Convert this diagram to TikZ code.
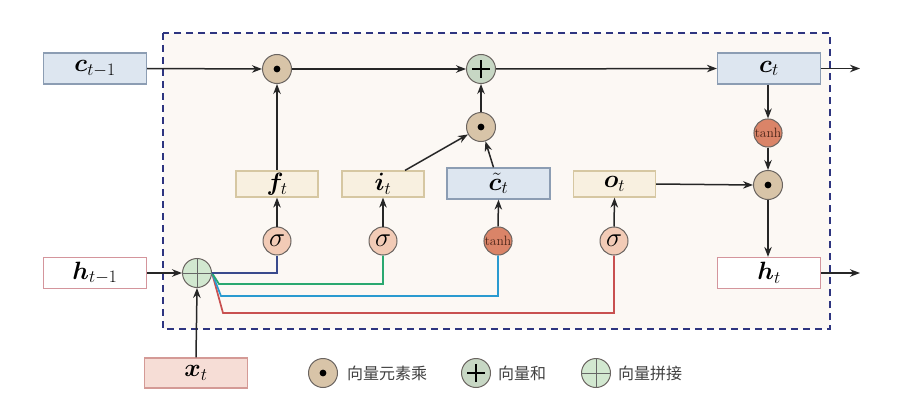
\RequirePackage{fix-cm}
\documentclass[tikz,border=0pt]{standalone}
\usepackage{fontspec}
\usepackage{amsmath,bm}
\newfontfamily\cjk{Noto Sans CJK SC}
\usetikzlibrary{arrows.meta}
\definecolor{bgfill}{HTML}{FCF8F4}
\definecolor{dashc}{HTML}{2E3580}
\definecolor{cfill}{HTML}{DDE6F0}
\definecolor{cdraw}{HTML}{8C9DB3}
\definecolor{gfill}{HTML}{F8F0E0}
\definecolor{gdraw}{HTML}{D6C7A2}
\definecolor{hdraw}{HTML}{D4959C}
\definecolor{xfill}{HTML}{F6DDD6}
\definecolor{xdraw}{HTML}{D49A96}
\definecolor{multfill}{HTML}{D8C4A8}
\definecolor{plusfill}{HTML}{C7D7C4}
\definecolor{catfill}{HTML}{D2E8D0}
\definecolor{sigfill}{HTML}{F2CBB6}
\definecolor{tanhfill}{HTML}{DA8468}
\definecolor{opdraw}{HTML}{6A6460}
\definecolor{lnavy}{HTML}{3A4A8C}
\definecolor{lgreen}{HTML}{2AA870}
\definecolor{lcyan}{HTML}{2A9AD0}
\definecolor{lred}{HTML}{C85050}
\definecolor{tanhtext}{HTML}{4A2418}
\tikzset{
  boxbase/.style={draw, line width=1.2pt, inner sep=0pt, font=\fontsize{25}{27}\selectfont},
  cbox/.style={boxbase, fill=cfill, draw=cdraw, minimum width=103pt, minimum height=31pt},
  hbox/.style={boxbase, fill=white, draw=hdraw, minimum width=103pt, minimum height=31pt},
  xbox/.style={boxbase, fill=xfill, draw=xdraw, minimum width=103pt, minimum height=30pt},
  gbox/.style={boxbase, fill=gfill, draw=gdraw, minimum width=82pt, minimum height=26pt},
  opc/.style={circle, draw=opdraw, line width=1pt, minimum size=29pt, inner sep=0pt},
  multop/.style={opc, fill=multfill},
  plusop/.style={opc, fill=plusfill},
  catop/.style={opc, fill=catfill},
  sigop/.style={opc, fill=sigfill, minimum size=28pt, font=\fontsize{27}{29}\selectfont},
  tanhop/.style={opc, fill=tanhfill, minimum size=28pt, text=tanhtext, font=\fontsize{13.5}{14}\selectfont},
  arr/.style={-{Stealth[length=10pt,width=7.5pt]}, line width=1.5pt, draw=black!85},
  wire/.style={line width=1.7pt},
  legtext/.style={anchor=west, inner sep=0pt, font=\cjk\fontsize{16}{18}\selectfont, text=black!75}
}
\newcommand{\mdot}[1]{\fill[black] (#1) circle (3.4pt);}
\newcommand{\mplus}[1]{\draw[line width=1.5pt] ([xshift=-9pt]#1.center) -- ([xshift=9pt]#1.center) ([yshift=-9pt]#1.center) -- ([yshift=9pt]#1.center);}
\newcommand{\mcat}[1]{\draw[line width=0.8pt, black!60] (#1.west) -- (#1.east) (#1.north) -- (#1.south);}
\begin{document}
\begin{tikzpicture}[x=1pt,y=-1pt]
\useasboundingbox (0,0) rectangle (913,412);
% background dashed box
\draw[fill=bgfill, draw=dashc, line width=2pt, dash pattern=on 7pt off 5pt] (163,33) rectangle (830,329);
% boxes
\node[cbox] (cprev) at (95,68.5) {$\bm{c}_{t-1}$};
\node[cbox] (ct) at (769,68.5) {$\bm{c}_{t}$};
\node[hbox] (hprev) at (95,273) {$\bm{h}_{t-1}$};
\node[hbox] (ht) at (769,273) {$\bm{h}_{t}$};
\node[xbox] (xt) at (196,373) {$\bm{x}_{t}$};
\node[gbox] (ft) at (277,184) {$\bm{f}_{t}$};
\node[gbox] (it) at (383,184) {$\bm{i}_{t}$};
\node[cbox] (tc) at (498.5,183.5) {$\tilde{\bm{c}}_{t}$};
\node[gbox] (ot) at (614.5,184) {$\bm{o}_{t}$};
% operators
\node[multop] (m1) at (277,69) {};
\node[plusop] (pl) at (481,69) {};
\node[multop] (m2) at (481,127) {};
\node[tanhop] (th2) at (768,133) {tanh};
\node[multop] (m3) at (768,185) {};
\node[sigop] (s1) at (277,241) {$\sigma$};
\node[sigop] (s2) at (383,241) {$\sigma$};
\node[tanhop] (th1) at (498,241) {tanh};
\node[sigop] (s3) at (614,241) {$\sigma$};
\node[catop] (cat) at (197,273) {};
\mdot{m1} \mdot{m2} \mdot{m3}
\mplus{pl}
\mcat{cat}
% coordinates for free ends
\coordinate (cout) at (860,68.5);
\coordinate (hout) at (860,273);
% top flow
\draw[arr] (cprev.east) -- (m1.west);
\draw[arr] (m1.east) -- (pl.west);
\draw[arr] (pl.east) -- (ct.west);
\draw[arr] (ct.east) -- (cout);
\draw[arr] (ft.north) -- (m1.south);
\draw[arr] ([xshift=22pt]it.north) -- (m2);
\draw[arr] ([xshift=-5pt]tc.north) -- (m2);
\draw[arr] (m2.north) -- (pl.south);
% gates
\draw[arr] (s1.north) -- (ft.south);
\draw[arr] (s2.north) -- (it.south);
\draw[arr] (th1.north) -- (tc.south);
\draw[arr] (s3.north) -- (ot.south);
% output side
\draw[arr] (ct.south -| th2) -- (th2.north);
\draw[arr] (th2.south) -- (m3.north);
\draw[arr] (ot.east) -- (m3.west);
\draw[arr] (m3.south) -- (ht.north -| m3);
\draw[arr] (ht.east) -- (hout);
% inputs
\draw[arr] (hprev.east) -- (cat.west);
\draw[arr] (xt.north) -- (cat.south);
% coloured wires
\draw[wire, lred] (cat.east) -- ++(11,40) -| (s3.south);
\draw[wire, lcyan] (cat.east) -- ++(9,23) -| (th1.south);
\draw[wire, lgreen] (cat.east) -- ++(7,11) -| (s2.south);
\draw[wire, lnavy] (cat.east) -| (s1.south);
% legend
\node[multop] (lg1) at (323,373) {};
\mdot{lg1}
\node[legtext] (lt1) at (347,373) {向量元素乘};
\node[plusop] (lg2) at (476,373) {};
\mplus{lg2}
\node[legtext] (lt2) at (498,373) {向量和};
\node[catop] (lg3) at (596,373) {};
\mcat{lg3}
\node[legtext] (lt3) at (618,373) {向量拼接};
\end{tikzpicture}
\end{document}
